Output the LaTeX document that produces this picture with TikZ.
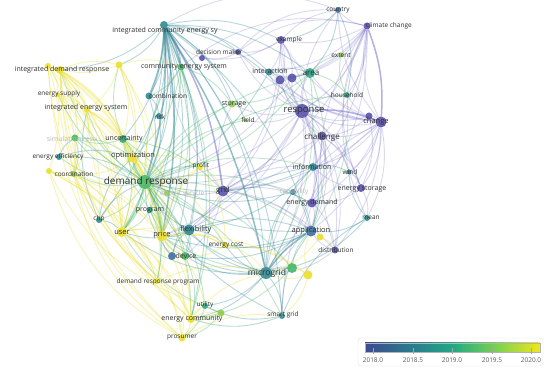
\documentclass[tikz,border=0pt]{standalone}
\usepackage{fontspec}
\setmainfont{Open Sans}
\usepackage{xcolor}
\usepackage{tikz}
\usetikzlibrary{backgrounds}

% year colours (overlay visualization)
\definecolor{yrA}{HTML}{5047A6}
\definecolor{yrB}{HTML}{33669A}
\definecolor{yrC}{HTML}{25838E}
\definecolor{yrD}{HTML}{22A07E}
\definecolor{yrE}{HTML}{3DB35F}
\definecolor{yrF}{HTML}{8BCB3E}
\definecolor{yrG}{HTML}{E8DD1F}
\definecolor{lnA}{HTML}{6C63C4}
\definecolor{labelgray}{HTML}{2E2E2E}
\definecolor{fadegray}{HTML}{B8B8B8}
\definecolor{lgA}{HTML}{3E4A8E}
\definecolor{lgB}{HTML}{2A788E}
\definecolor{lgC}{HTML}{22A884}
\definecolor{lgD}{HTML}{7AD151}
\definecolor{lgE}{HTML}{F2E61C}

\pgfdeclarehorizontalshading{yrscale}{100bp}{color(0bp)=(lgA); color(25bp)=(lgA); color(37.5bp)=(lgB); color(50bp)=(lgC); color(62.5bp)=(lgD); color(75bp)=(lgE); color(100bp)=(lgE)}

\begin{document}
\begin{tikzpicture}[x=1pt, y=-1pt,
    vnode/.style={circle, inner sep=0pt, fill=#1, fill opacity=0.85},
    lbl/.style={text=labelgray, inner sep=0pt},
    faded/.style={text=fadegray, inner sep=0pt},
    link/.style={draw=#1, draw opacity=0.32, line width=0.9pt},
    softlink/.style={draw=#1, draw opacity=0.24, line width=0.9pt},
    strong/.style={draw=#1, draw opacity=0.5, line width=1.5pt}]
  \useasboundingbox (0,0) rectangle (550,371);

  % Items
  \foreach \n/\x/\y/\c/\s in {
      ices/164/25/yrC/8pt, idr/60/70/yrG/8pt, idr2/48/66/yrG/6pt, dsm/119/65/yrG/7pt,
      ces/181/67/yrE/7pt, dmk/238/52/yrA/6pt, pn1/202/58/yrA/6pt, expl/281/40/yrA/8pt,
      ctry/338/10/yrB/6pt, clim/367/26/yrA/7pt, extt/341/55/yrF/5pt, inter/269/72/yrC/7pt,
      pa/280/80/yrA/9pt, pb/292/78/yrA/9pt, area/310/73/yrD/10pt, hh/347/95/yrD/6pt,
      resp/302/111/yrA/14pt, stor/232/104/yrF/7pt, field/245/120/yrF/4pt, chg/381/122/yrA/11pt,
      pc/369/116/yrA/7pt, comb/149/96/yrC/7pt, risk/159/116/yrC/6pt, esup/58/95/yrG/5pt,
      ies/87/110/yrG/6pt, sim/75/138/yrE/7pt, unc/123/139/yrD/8pt, eeff/59/157/yrC/6pt,
      opt/132/158/yrG/9pt, coord/74/174/yrF/6pt, yc/49/171/yrG/6pt, dr/145/182/yrE/14pt,
      ev/167/193/yrF/6pt, prog/150/210/yrD/6pt, chp/99/220/yrC/6pt, user/122/232/yrG/10pt,
      price/162/236/yrG/11pt, flex/189/230/yrC/11pt, profit/200/167/yrG/6pt, grid/223/191/yrA/11pt,
      chal/322/136/yrA/9pt, info/313/167/yrC/8pt, wind/349/172/yrC/5pt, estor/361/188/yrA/8pt,
      capab/293/192/yrC/6pt, edem/312/203/yrA/9pt, mean/367/218/yrC/6pt, appl/311/231/yrB/11pt,
      ya/320/237/yrG/7pt, ecost/225/245/yrG/6pt, devb/172/256/yrB/8pt, dev/185/256/yrE/8pt,
      dist/335/250/yrA/7pt, mg/266/273/yrC/12pt, mgg/292/268/yrE/10pt, mgy/308/275/yrG/9pt,
      drp/157/281/yrG/6pt, util/205/306/yrD/6pt, ug/221/313/yrF/7pt, ecom/191/319/yrG/8pt,
      sg/282/316/yrC/6pt, pros/182/338/yrG/7pt}
    \node[vnode=\c, minimum size=\s] (\n) at (\x,\y) {};

  % Links
  \begin{scope}[on background layer]
    \fill[white] (0,0) rectangle (550,371);
    % 2018
    \foreach \a/\b in {chg/resp, chg/clim, chg/chal, chg/estor, chg/expl, chg/ctry, chg/edem,
        chg/info, chg/appl, chg/dist, chg/hh, chg/area, chg/grid, chg/pa, chg/pb, chg/mean,
        clim/resp, clim/expl, clim/ctry, clim/chal, clim/pb, clim/pa, clim/area, clim/info,
        clim/edem, clim/grid, clim/hh, clim/inter, chg/inter, chg/wind, chg/dmk,
        resp/chal, resp/grid, resp/estor, resp/info, resp/edem, resp/appl, resp/expl, resp/dmk,
        resp/pa, resp/pb, resp/area, resp/inter, resp/hh, resp/dist, resp/mg, resp/dr, resp/stor,
        resp/wind, resp/capab, resp/flex, resp/price, resp/ctry, resp/field,
        chal/grid, chal/edem, chal/info, chal/appl, chal/estor, chal/pa, chal/wind, chal/dr,
        chal/mg, chal/expl, chal/dist,
        estor/edem, estor/mean, estor/info, expl/dmk, expl/pa, expl/ctry, expl/pb, expl/pn1,
        expl/grid, expl/edem, expl/inter,
        grid/appl, grid/dr, grid/flex, grid/edem, grid/dist, grid/ices, grid/stor, grid/price,
        grid/mg, grid/info, grid/dev, grid/capab, dist/appl, dist/mg, dmk/pn1, pn1/ices,
        edem/dist, edem/appl, edem/mg, pa/pb, pc/chg, pc/resp, pc/chal, pc/estor, pa/grid, pb/dr}
      \draw[softlink=lnA] (\a) to[bend left=18] (\b);
    \foreach \a/\b in {clim/estor, clim/mean, chg/sg, clim/dmk, ctry/ices, clim/ces, ctry/dmk,
        chg/mg, clim/dist}
      \draw[softlink=lnA] (\a) to[bend right=25] (\b);
    \foreach \a/\b in {resp/chg, clim/chg, ices/grid}
      \draw[strong=lnA] (\a) to[bend left=12] (\b);
    % 2018.5
    \foreach \a/\b in {ices/dr, ices/ces, ices/comb, ices/risk, ices/price, ices/flex, ices/mg,
        ices/sg, ices/unc, ices/opt, ices/inter, ices/expl, ices/stor, ices/appl, ices/dev,
        ices/area, ices/user, ices/chp, ices/idr, ices/dsm, ices/field, ices/resp,
        ices/prog, ices/ecom, ices/devb, ices/dmk,
        mg/sg, mg/appl, mg/dr, mg/flex, mg/dev, mg/util, mg/mgg, mg/info, mg/ecom, mg/price,
        mg/user, mg/capab, mg/ecost,
        sg/appl, sg/dr, sg/util, sg/ecom, sg/mean, mean/appl, mean/wind, info/wind, info/appl,
        info/dr, info/flex, flex/dr, flex/price, flex/appl, flex/dev, flex/ecost, flex/user,
        flex/info, comb/dr, comb/risk, risk/dr, chp/dr, chp/ies, chp/opt, chp/user,
        eeff/dr, eeff/opt, eeff/sim, capab/appl, capab/dr, inter/area, inter/dr, inter/pa,
        ctry/area, ctry/hh, devb/dr, devb/price, appl/dr, appl/dev, appl/price, ctry/expl,
        mean/mg, wind/estor, devb/flex, appl/ecost}
      \draw[link=yrC] (\a) to[bend left=18] (\b);
    \foreach \a/\b in {ices/dr, ices/mg, ices/price, ices/ces, ices/comb, mg/appl}
      \draw[strong=yrC] (\a) to[bend left=10] (\b);
    % 2019
    \foreach \a/\b in {dr/price, dr/opt, dr/unc, dr/prog, dr/user, dr/ev, dr/ces, dr/area,
        dr/stor, dr/sim, dr/coord, dr/dev, dr/ecost, dr/profit, dr/mgg, dr/hh, dr/chp,
        dr/appl, dr/info, dr/edem, dr/ies, dr/idr, dr/eeff, dr/esup, dr/drp, dr/ecom,
        dr/util, dr/sg, dr/field,
        area/hh, area/extt, area/stor, area/appl, area/inter, area/dr, area/mg,
        ces/ecom, ces/stor, ces/opt, ces/comb, ces/price, ces/user,
        unc/opt, unc/sim, unc/price, unc/dsm, unc/user, unc/flex,
        prog/price, prog/user, dev/price, mgg/appl, mgg/ecom, mgg/mg, mgg/price, ug/ecom,
        ug/pros, util/pros, hh/appl, hh/extt, sim/opt, unc/grid, dev/ecom, prog/drp,
        sim/coord, sim/price, ug/user}
      \draw[link=yrE] (\a) to[bend left=18] (\b);
    \foreach \a/\b in {dr/price, dr/opt, dr/user}
      \draw[strong=yrE] (\a) to[bend left=10] (\b);
    % 2020
    \foreach \a/\b in {idr/ies, idr/esup, idr/opt, idr/coord, idr/dsm, idr/price, idr/user,
        idr/dr, idr/unc, idr/sim, idr/chp,
        idr2/ies, idr2/coord, idr2/esup, idr2/opt, idr2/user, idr2/yc,
        dsm/ces, dsm/opt, dsm/unc, dsm/idr2, dsm/dr, dsm/price, dsm/user, dsm/ies,
        esup/ies, esup/opt, esup/coord, esup/price,
        ies/opt, ies/coord, ies/user, ies/dr, ies/unc, ies/sim,
        opt/price, opt/user, opt/coord, opt/profit, opt/ecost, opt/drp, opt/ecom, opt/ev,
        coord/yc, coord/price, coord/drp, yc/user, yc/drp, yc/price, yc/ecom,
        user/price, user/drp, user/ecom, user/ecost,
        price/drp, price/ecom, price/pros, price/ecost, price/profit, price/util, price/mgy,
        drp/ecom, drp/pros, ecom/pros, ecom/util, ecom/ug, ecost/mgy, mgy/appl, mgy/mg,
        ya/appl, ya/dist, ya/mg, profit/ecost, ev/price, pros/sg, drp/mg, ecom/mg,
        user/pros, esup/user, opt/dr, profit/grid, mgy/sg, ecost/dev, coord/user, ies/price,
        profit/dr, ecost/mg, pros/ug}
      \draw[link=yrG] (\a) to[bend left=18] (\b);
    \foreach \a/\b in {idr/pros, idr2/drp, yc/pros, idr/ecom, coord/pros, idr2/pros,
        esup/drp, idr/drp, ies/ecom, yc/util}
      \draw[link=yrG] (\a) to[bend right=22] (\b);
  \end{scope}

  % Labels
  \foreach \n/\x/\y/\t/\f in {
      ices/165/31/integrated community energy sy/7, idr/62/70/integrated demand response/7,
      ces/184/67/community energy system/7, dmk/219/52/decision maker/6.5,
      expl/289/40/example/6.5, ctry/338/10/country/6.5, clim/389/26/climate change/6.5,
      extt/341/55/extent/6.5, inter/270/71/interaction/7, area/311/73/area/8,
      hh/347/95/household/6.5, resp/304/111/response/9.5, stor/234/104/storage/7,
      field/248/120/field/6.5, chg/376/122/change/7.5, comb/168/96/combination/6.5,
      risk/160/117/risk/6.5, esup/59/94/energy supply/6.5, ies/86/108/integrated energy system/7,
      unc/124/139/uncertainty/7, eeff/58/157/energy efficiency/6.5, opt/133/156/optimization/7.5,
      coord/74/174/coordination/6.5, dr/146/182/demand response/10, prog/150/210/program/7,
      profit/201/166/profit/6.5, grid/223/191/grid/7.5, chal/322/137/challenge/8,
      info/312/167/information/7, wind/350/172/wind/6.5, estor/362/189/energy storage/7,
      edem/312/203/energy demand/7, mean/371/218/mean/6.5, appl/311/231/application/7.5,
      ecost/226/245/energy cost/6.5, flex/196/230/flexibility/7.5, chp/99/219/chp/6.5,
      user/122/232/user/7.5, price/162/235/price/7.5, dev/186/256/device/7,
      dist/336/250/distribution/6.5, mg/267/273/microgrid/8.5,
      drp/158/282/demand response program/6.5, util/205/305/utility/6.5,
      ecom/192/319/energy community/7, sg/283/315/smart grid/6.5, pros/182/338/prosumer/6.5}
    \node[lbl, font=\fontsize{\f}{\f}\selectfont] (\n-l) at (\x,\y) {\t};

  % half hidden labels
  \node[faded, font=\fontsize{7}{7}\selectfont] (sim-l) at (72,139) {simulation resu};
  \node[faded, font=\fontsize{6.5}{6.5}\selectfont] (ev-l) at (182,193) {electric vehicle};
  \node[faded, font=\fontsize{6.5}{6.5}\selectfont] (capab-l) at (294,192) {capability};

  % Legend
  \draw[rounded corners=3pt, draw=black!12, fill=white] (358,338) rectangle (543,366);
  \shade[shading=yrscale] (365,343) rectangle (540,352);
  \draw[black!30, line width=0.4pt] (365,343) rectangle (540,352);
  \foreach \x/\t in {373/2018.0, 413/2018.5, 452/2019.0, 492/2019.5, 531/2020.0} {
    \draw[black!35, line width=0.4pt] (\x,348) -- (\x,354);
    \node[text=black!65, inner sep=0pt, font=\fontsize{6.5}{6.5}\selectfont] (t\t) at (\x,360.5) {\t};
  }
\end{tikzpicture}
\end{document}
